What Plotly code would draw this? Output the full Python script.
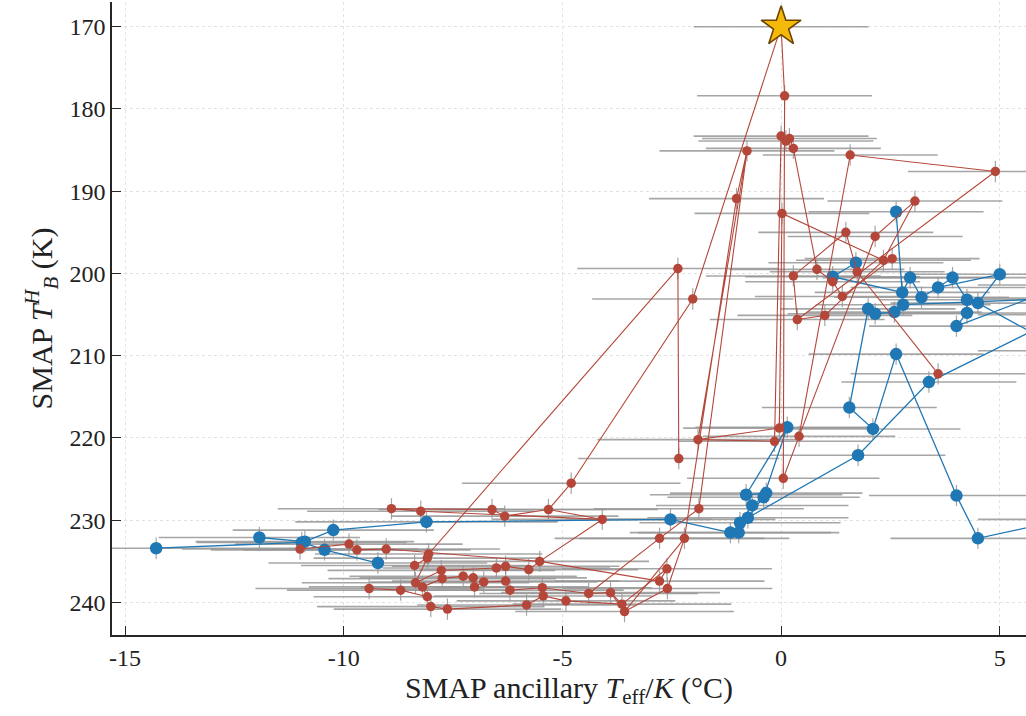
import plotly.graph_objects as go

# ---------------------------------------------------------------- data
# Blue series: id, T_eff/K (°C), T_B^H (K), horizontal uncertainty (°C)
blue_ids = ["B1", "B2", "B3", "B3b", "B4", "B5", "B6", "B7", "B8", "B9", "B10",
            "B11", "B12", "B13", "B14", "B15", "B16", "B17", "B18", "B19", "B20",
            "B21", "B22", "B23", "B24", "B25", "B26", "B27", "B28", "B29", "B30",
            "B31", "B32", "B33", "B34", "B35", "B36", "B37", "B38", "B39", "B40",
            "B41", "oA", "oB", "oC", "oD", "oE"]
blue_x = [-14.29, -11.93, -10.96, -10.89, -10.44, -10.24, -9.22, -8.11, -2.53, -1.16, -0.97,
          -0.76, -0.94, -0.66, -0.80, -0.40, -0.34, 0.14, 1.76, 1.56, 2.10,
          2.63, 3.38, 4.01, 4.50, 2.63, 1.71, 1.18, 2.95, 2.77, 3.21,
          3.59, 3.92, 5.00, 4.25, 4.50, 4.25, 4.01, 2.79, 2.59, 1.99,
          2.15, 6.50, 6.50, 6.50, 6.50, 6.50]
blue_y = [233.4, 232.1, 232.7, 232.6, 233.6, 231.2, 235.2, 230.2, 229.9, 231.5, 231.5,
          229.7, 230.3, 228.2, 226.9, 227.2, 226.7, 218.7, 222.1, 216.3, 218.9,
          209.8, 213.2, 227.0, 232.2, 192.5, 198.7, 200.4, 200.5, 202.3, 202.9,
          201.7, 200.5, 200.1, 203.2, 203.6, 204.8, 206.4, 203.8, 204.7, 204.3,
          204.9, 205.0, 229.9, 201.4, 209.4, 203.0]
blue_xerr = [3.6, 2.3, 2.4, 2.5, 2.6, 2.3, 2.5, 3.0, 2.4, 2.3, 2.3,
             2.3, 2.3, 2.2, 2.2, 2.2, 2.2, 2.1, 2.0, 2.0, 2.0,
             2.0, 2.0, 2.0, 2.0, 2.0, 2.0, 2.0, 2.0, 2.0, 2.0,
             2.0, 2.0, 2.0, 2.0, 2.0, 2.0, 2.0, 2.0, 2.0, 2.0,
             2.0, 2.0, 2.0, 2.0, 2.0, 2.0]
blue_paths = [
    ["B6", "B4", "B3", "B1"],
    ["B2", "B3b", "B5", "B7", "B8", "B9", "B10", "B12", "B13", "B15", "B17",
     "B14", "B16", "B11", "B18", "B22", "oA"],
    ["B26", "B27", "B29", "B25"],
    ["B29", "B28", "B30", "B31", "B32", "B34", "B36", "B37", "oC"],
    ["B31", "B33", "B35", "oD"],
    ["B38", "B39", "B41", "B40", "B19", "B20", "B21", "B23", "B24", "oB"],
    ["B38", "oE"],
]

# Red series
red_ids = ["star", "U1", "U2", "U3b", "U3", "U4", "U5", "U6", "U7", "U8", "U9", "U10",
           "U11", "U12", "U13", "U14", "U15", "U16", "U17", "U18", "U19", "U20", "U21",
           "U22", "U23", "U24", "x25", "x26", "x27", "x28", "x29", "x30", "x24", "x22",
           "x23", "f", "a", "b", "c", "d", "e", "g", "h", "i", "j", "k", "l", "m", "n",
           "o", "p", "q", "r", "s", "t", "u", "v", "w", "x1", "x2", "x3", "x4", "x5",
           "x6", "x7", "x8", "x9", "x10", "x11", "x12", "x13", "x14", "x15", "x16",
           "x17", "x18", "x19", "x20", "x21"]
red_x = [0.00, 0.08, 0.00, 0.11, 0.19, 0.28, -0.78, 1.58, 4.90, -1.02, 3.06, 0.02,
         1.48, 2.15, -2.36, -2.02, 0.28, 0.82, 1.18, 1.74, 2.34, 2.54, 1.40,
         1.00, 0.37, 3.59, -2.34, -1.90, -0.15, -0.04, 0.41, 0.05, -1.88, -2.78,
         -2.21, -4.80, -8.91, -8.24, -6.61, -6.32, -5.32, -4.09, -11.00, -9.88, -9.70, -9.03, -8.06, -8.09, -8.38,
         -7.77, -7.75, -8.36, -8.20, -9.42, -8.70, -8.09, -8.01, -7.63, -7.27, -7.04, -6.80, -7.01, -6.51,
         -6.30, -6.30, -6.20, -5.77, -5.52, -5.46, -5.44, -5.82, -4.92, -4.40, -3.90,
         -3.64, -3.58, -2.61, -2.78, -2.60]
red_y = [170.0, 178.4, 183.3, 183.9, 183.6, 184.8, 185.1, 185.6, 187.6, 190.9, 191.2, 192.7,
         195.0, 195.5, 199.4, 203.1, 200.3, 199.5, 201.0, 199.8, 198.4, 198.2, 202.8,
         205.1, 205.6, 212.2, 222.5, 220.2, 220.4, 218.8, 219.8, 224.9, 228.6, 232.2,
         232.2, 225.5, 228.6, 228.9, 228.7, 229.5, 228.7, 229.9, 233.5, 232.9, 233.6, 233.5, 234.1, 234.6, 235.5,
         236.1, 237.1, 237.6, 238.1, 238.3, 238.5, 239.3, 240.5, 240.8, 236.8, 237.0, 237.5, 238.1, 235.8,
         235.6, 237.4, 238.5, 236.0, 235.0, 238.2, 239.2, 240.3, 239.8, 238.9, 238.8,
         240.2, 241.1, 235.9, 237.4, 238.3]
red_xerr = [2.0, 2.0, 2.0, 2.0, 2.0, 2.0, 2.0, 2.0, 2.0, 2.0, 2.0, 2.0,
            2.0, 2.0, 2.3, 2.3, 2.0, 2.0, 2.0, 2.0, 2.0, 2.0, 2.0,
            2.0, 2.0, 2.0, 2.3, 2.3, 2.2, 2.2, 2.2, 2.2, 2.4, 2.4,
            2.4, 2.5, 2.6, 2.6, 2.6, 2.6, 2.5, 2.5, 2.7, 2.6, 2.6, 2.6, 2.6, 2.6, 2.6,
            2.6, 2.6, 2.6, 2.6, 2.6, 2.6, 2.6, 2.6, 2.6, 2.6, 2.6, 2.6, 2.6, 2.6,
            2.6, 2.6, 2.6, 2.5, 2.5, 2.5, 2.5, 2.5, 2.5, 2.5, 2.5,
            2.5, 2.5, 2.4, 2.4, 2.4]
red_paths = [
    ["x25", "U13", "l", "m", "n"],
    ["m", "q", "o", "x5", "x6", "x9", "x10"],
    ["s", "t", "u", "r", "p", "x1", "x2", "x4", "x3", "x7", "x8", "x11", "x15"],
    ["v", "w", "x13", "x12", "x14", "x17", "x16", "x15", "x22", "x24", "U5"],
    ["h", "i", "j", "k", "x10", "x20", "x19", "x17"],
    ["x16", "x18", "x21", "x23", "U8", "U5", "x26", "x28", "U10", "U19", "U9", "U12",
     "x29", "x30", "U1", "star", "U14", "f", "e", "g", "x10"],
    ["e", "d", "c", "a", "b", "g"],
    ["x29", "U6", "U7", "U23", "U15", "U11", "U18", "U24"],
    ["x26", "x27", "U2", "U3b", "U3", "U4", "U16", "U17", "U21", "U20"],
    ["U23", "U22", "U19"],
    ["x18", "x23"],
]

tb_err = 1.3          # vertical uncertainty on T_B (K)
star_id = "star"

x_ticks = [-15, -10, -5, 0, 5]
x_ticktext = ["-15", "-10", "-5", "0", "5"]
y_ticks = [170, 180, 190, 200, 210, 220, 230, 240]

# ---------------------------------------------------------------- styles
BLUE = "#1f77b4"
RED = "#b5473a"
ERR = "rgba(150,150,150,0.85)"
FONT = "Liberation Serif"


def path_xy(ids, xs, ys, paths):
    pos = {k: n for n, k in enumerate(ids)}
    px, py = [], []
    for p in paths:
        for k in p:
            px.append(xs[pos[k]])
            py.append(ys[pos[k]])
        px.append(None)
        py.append(None)
    return px, py


fig = go.Figure()

# uncertainty bars (drawn beneath everything)
for xs, ys, xe in [(blue_x, blue_y, blue_xerr), (red_x, red_y, red_xerr)]:
    fig.add_trace(go.Scatter(
        x=xs, y=ys, mode="markers",
        marker=dict(size=1, color="rgba(0,0,0,0)"),
        error_x=dict(type="data", array=xe, color=ERR, thickness=1.6, width=0),
        error_y=dict(type="data", array=[tb_err] * len(ys), color=ERR, thickness=1.2, width=0),
        cliponaxis=False, hoverinfo="skip", showlegend=False))

# blue series
bx, by = path_xy(blue_ids, blue_x, blue_y, blue_paths)
fig.add_trace(go.Scatter(x=bx, y=by, mode="lines", line=dict(color=BLUE, width=1.3),
                         connectgaps=False, hoverinfo="skip", showlegend=False))
fig.add_trace(go.Scatter(x=blue_x, y=blue_y, mode="markers",
                         marker=dict(size=12.5, color=BLUE, line=dict(width=0)),
                         showlegend=False))

# red series
rx, ry = path_xy(red_ids, red_x, red_y, red_paths)
fig.add_trace(go.Scatter(x=rx, y=ry, mode="lines", line=dict(color=RED, width=1.1),
                         connectgaps=False, hoverinfo="skip", showlegend=False))
fig.add_trace(go.Scatter(x=red_x, y=red_y, mode="markers",
                         marker=dict(size=9.5, color=RED, line=dict(width=0)),
                         showlegend=False))

# highlighted point
si = red_ids.index(star_id)
fig.add_trace(go.Scatter(x=[red_x[si]], y=[red_y[si]], mode="markers",
                         marker=dict(symbol="star", size=30, color="#f5b90a",
                                     line=dict(color="#6b4400", width=1.6)),
                         cliponaxis=False, showlegend=False))

axis_common = dict(
    showline=True, linecolor="#262626", linewidth=1.5,
    ticks="inside", ticklen=9, tickwidth=1.3, tickcolor="#262626",
    showgrid=True, gridcolor="#e2e2e2", griddash="dot", gridwidth=1,
    zeroline=False, mirror=False,
    tickfont=dict(family=FONT, size=24, color="#222"),
)

fig.update_layout(
    width=1026, height=716,
    margin=dict(l=112, r=0, t=2, b=81),
    paper_bgcolor="white", plot_bgcolor="white",
    font=dict(family=FONT, color="#222"),
    xaxis=dict(range=[-15.3, 5.6], tickvals=x_ticks, ticktext=x_ticktext,
               title=dict(text="SMAP ancillary <i>T</i><sub>eff</sub>/<i>K</i> (°C)",
                          font=dict(family=FONT, size=30), standoff=4),
               **axis_common),
    yaxis=dict(range=[243.95, 167.0], tickvals=y_ticks,
               title=dict(text="SMAP <i>T</i><sup><i>H</i></sup><sub><i>B</i></sub> (K)",
                          font=dict(family=FONT, size=30), standoff=8),
               **axis_common),
)

fig.write_html("out.html")
